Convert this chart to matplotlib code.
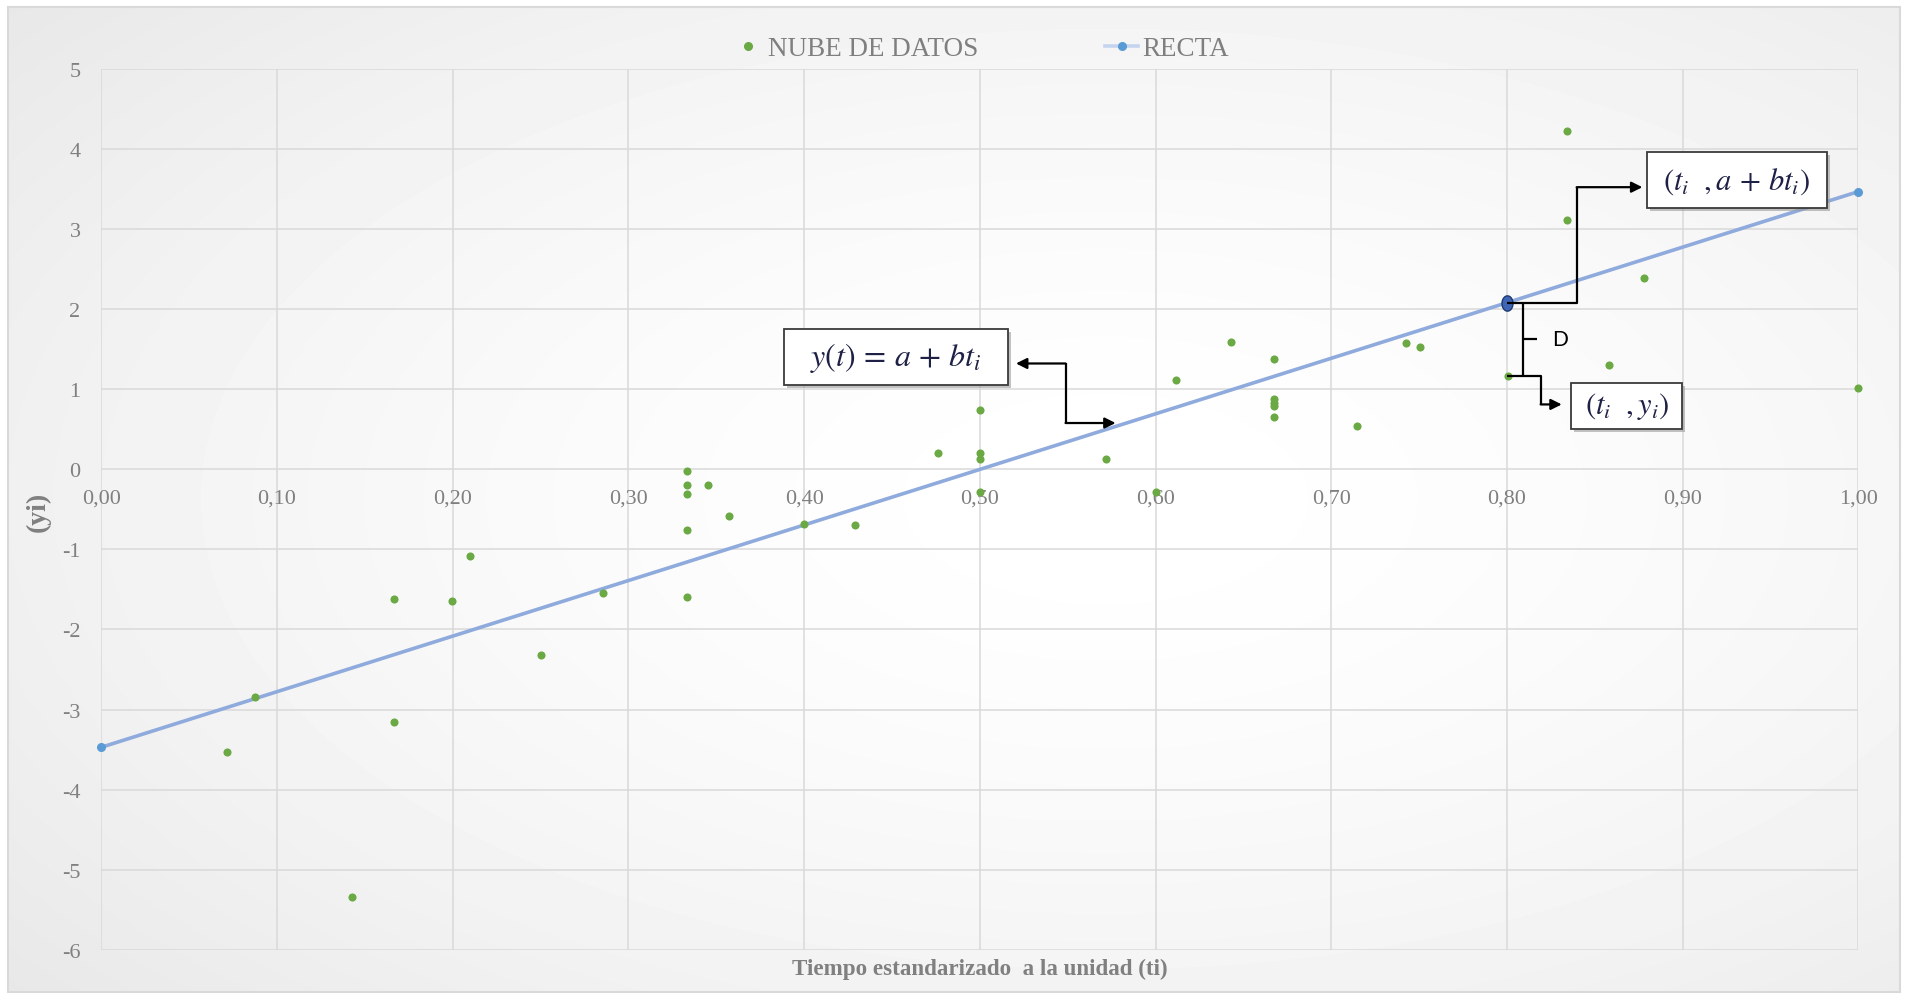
import numpy as np
import matplotlib
matplotlib.use("Agg")
import matplotlib.pyplot as plt
from matplotlib.lines import Line2D
from matplotlib.patches import Rectangle

# ---------------- data ----------------
t_datos = [0.0717, 0.0873, 0.1425, 0.1666, 0.1666, 0.1998, 0.2097, 0.2503, 0.2857,
           0.3333, 0.3333, 0.3333, 0.3333, 0.3333, 0.3453, 0.3573, 0.4001, 0.4290,
           0.4760, 0.5000, 0.5000, 0.5000, 0.5000, 0.5717, 0.6000, 0.6117, 0.6432,
           0.6673, 0.6673, 0.6673, 0.6673, 0.6673, 0.7149, 0.7428, 0.7504, 0.8004,
           0.8340, 0.8340, 0.8580, 0.8780, 1.0000]
y_datos = [-3.535, -2.845, -5.343, -1.619, -3.157, -1.640, -1.079, -2.325, -1.548,
           -0.019, -0.202, -0.314, -0.758, -1.590, -0.193, -0.580, -0.688, -0.700,
           0.202, 0.738, 0.202, 0.127, -0.289, 0.122, -0.287, 1.108, 1.590,
           1.378, 0.870, 0.829, 0.788, 0.651, 0.542, 1.569, 1.519, 1.162,
           4.221, 3.115, 1.299, 2.388, 1.008]

t_recta = [0.0, 1.0]
y_recta = [-3.47, 3.464]

t_punto = 0.80          # highlighted point t_i
y_punto_dato = 1.162    # observed y_i at t_i

x_ticks = [0.0, 0.1, 0.2, 0.3, 0.4, 0.5, 0.6, 0.7, 0.8, 0.9, 1.0]
x_tick_labels = ["0,00", "0,10", "0,20", "0,30", "0,40", "0,50",
                 "0,60", "0,70", "0,80", "0,90", "1,00"]
y_ticks = [-6, -5, -4, -3, -2, -1, 0, 1, 2, 3, 4, 5]
y_tick_labels = [str(v) for v in y_ticks]

legend_labels = ["NUBE DE DATOS", "RECTA"]
x_title = "Tiempo estandarizado  a la unidad (ti)"
y_title = "(yi)"

# ---------------- style ----------------
plt.rcParams["font.family"] = ["Liberation Serif", "DejaVu Serif"]
plt.rcParams["mathtext.fontset"] = "stix"

W, H = 1905, 995
fig = plt.figure(figsize=(W / 100, H / 100), dpi=100)
fig.patch.set_facecolor("white")

# background gradient inside chart border
bx0, bx1 = 7.5 / W, 1900 / W
by0, by1 = 1 - 993 / H, 1 - 7.5 / H
bg = fig.add_axes([0, 0, 1, 1], zorder=-10)
bg.set_axis_off()
bg.set_xlim(0, 1)
bg.set_ylim(0, 1)
yy, xx = np.mgrid[0:1:300j, 0:1:600j]
r = np.sqrt(((xx - 0.58) / 0.62) ** 2 + ((yy - 0.5) / 0.62) ** 2)
val = 1.0 - 0.065 * np.clip(r, 0, 1.3) ** 1.6
bg.imshow(val, cmap="gray", vmin=0, vmax=1, extent=[bx0, bx1, by0, by1],
          origin="lower", aspect="auto", interpolation="bilinear")
bg.add_patch(Rectangle((bx0, by0), bx1 - bx0, by1 - by0, fill=False,
                       edgecolor="#d9d9d9", lw=1.5))

# main axes
L, R, T, B = 101.3, 1858.3, 69.5, 951.0
ax = fig.add_axes([L / W, 1 - B / H, (R - L) / W, (B - T) / H])
ax.set_facecolor("none")
ax.set_xlim(0, 1)
ax.set_ylim(-6, 5)
ax.set_xticks(x_ticks)
ax.set_xticklabels(x_tick_labels)
ax.set_yticks(y_ticks)
ax.set_yticklabels(y_tick_labels)
ax.grid(True, color="#d9d9d9", lw=1.1, zorder=0)
ax.set_axisbelow(True)
for s in ax.spines.values():
    s.set_visible(False)
ax.spines["bottom"].set_position(("data", 0))
ax.tick_params(axis="both", length=0, labelsize=16, labelcolor="#808080")
ax.tick_params(axis="x", pad=14)
ax.tick_params(axis="y", pad=15)

# regression line and its end markers
ax.plot(t_recta, y_recta, color="#8FAADC", lw=2.6, zorder=3, clip_on=False,
        solid_capstyle="butt")
ax.plot(t_recta, y_recta, ls="none", marker="o", ms=5.5, color="#5B9BD5",
        zorder=5, clip_on=False)

# data cloud
ax.scatter(t_datos, y_datos, s=34, color="#6AA943", linewidths=0, zorder=4,
           clip_on=False)

# highlighted point on the line
y_punto_recta = float(np.interp(t_punto, t_recta, y_recta))
ang = np.linspace(0, 2 * np.pi, 40)
ellipse_marker = list(zip(0.72 * np.cos(ang), np.sin(ang)))
ax.plot([t_punto], [y_punto_recta], ls="none", marker=ellipse_marker, ms=11,
        mfc="#3F66B5", mec="#1F3A73", mew=1.0, zorder=7)

# ---------------- annotations ----------------
sx = 1.0 / (R - L)           # data units per pixel (t)
sy = 11.0 / (B - T)          # data units per pixel (y)
txt_color = "#1E2145"


def box(cx, cy, w, h, text, fs):
    x0, y0 = cx - w / 2, cy - h / 2
    ax.add_patch(Rectangle((x0 + 3 * sx, y0 - 3 * sy), w, h, facecolor="#9a9a9a",
                           edgecolor="none", alpha=0.6, zorder=8, clip_on=False))
    ax.add_patch(Rectangle((x0, y0), w, h, facecolor="white", edgecolor="#3a3a3a",
                           lw=1.3, zorder=9, clip_on=False))
    ax.text(cx, cy, text, ha="center", va="center", fontsize=fs, color=txt_color,
            zorder=10)


def arrow(x0, y0, x1, y1):
    ax.annotate("", xy=(x1, y1), xytext=(x0, y0),
                arrowprops=dict(arrowstyle="-|>", color="black", lw=1.6,
                                mutation_scale=16, shrinkA=0, shrinkB=0),
                zorder=9)


conn = dict(color="black", lw=1.6, zorder=8, solid_capstyle="butt")

# box y(t) = a + bt_i with double elbow arrow
box(0.4524, 1.394, 224 * sx, 56 * sy, r"$y(t)\,=\,a\,+\,bt_i$", 23)
ax.plot([0.5488, 0.5488], [1.319, 0.576], **conn)
arrow(0.5488, 1.319, 0.5206, 1.319)
arrow(0.5488, 0.576, 0.5773, 0.576)

# box (t_i , a + bt_i)
box(0.9308, 3.606, 180 * sx, 56 * sy, r"$(t_i\ \ ,a\,+\,bt_i)$", 22)
ax.plot([t_punto, 0.8397, 0.8397], [y_punto_recta, y_punto_recta, 3.519], **conn)
arrow(0.8397, 3.519, 0.8771, 3.519)

# brace D
ax.plot([0.8093, 0.8093], [y_punto_recta, y_punto_dato], **conn)
ym = (y_punto_recta + y_punto_dato) / 2
ax.plot([0.8093, 0.8170], [ym, ym], **conn)
ax.text(0.8300, ym, "D", family=["Lato", "DejaVu Sans"], fontsize=15,
        color="black", ha="center", va="center", zorder=10)

# box (t_i , y_i)
box(0.8682, 0.792, 111 * sx, 46 * sy, r"$(t_i\ \ ,y_i)$", 22)
ax.plot([t_punto, 0.8192, 0.8192], [y_punto_dato, y_punto_dato, 0.808], **conn)
arrow(0.8192, 0.808, 0.8312, 0.808)

# ---------------- titles and legend ----------------
fig.text(980 / W, 1 - 969 / H, x_title, ha="center", va="center", fontsize=16.6,
         fontweight="bold", color="#808080")
fig.text(38 / W, 1 - 512 / H, y_title, ha="center", va="center", rotation=90,
         fontsize=20, fontweight="bold", color="#808080")

h1 = Line2D([], [], ls="none", marker="o", ms=5.5, color="#6AA943")
h2 = Line2D([], [], color="#C5D4EE", lw=2.6, marker="o", ms=5.5,
            mfc="#5B9BD5", mec="#5B9BD5")
fig.legend([h1, h2], legend_labels, loc="center", bbox_to_anchor=(980 / W, 1 - 50 / H),
           ncol=2, frameon=False, fontsize=19.5, handlelength=1.2,
           handletextpad=0.15, columnspacing=4.7, labelcolor="#7f7f7f",
           numpoints=1)

fig.savefig("out.png", dpi=100)
